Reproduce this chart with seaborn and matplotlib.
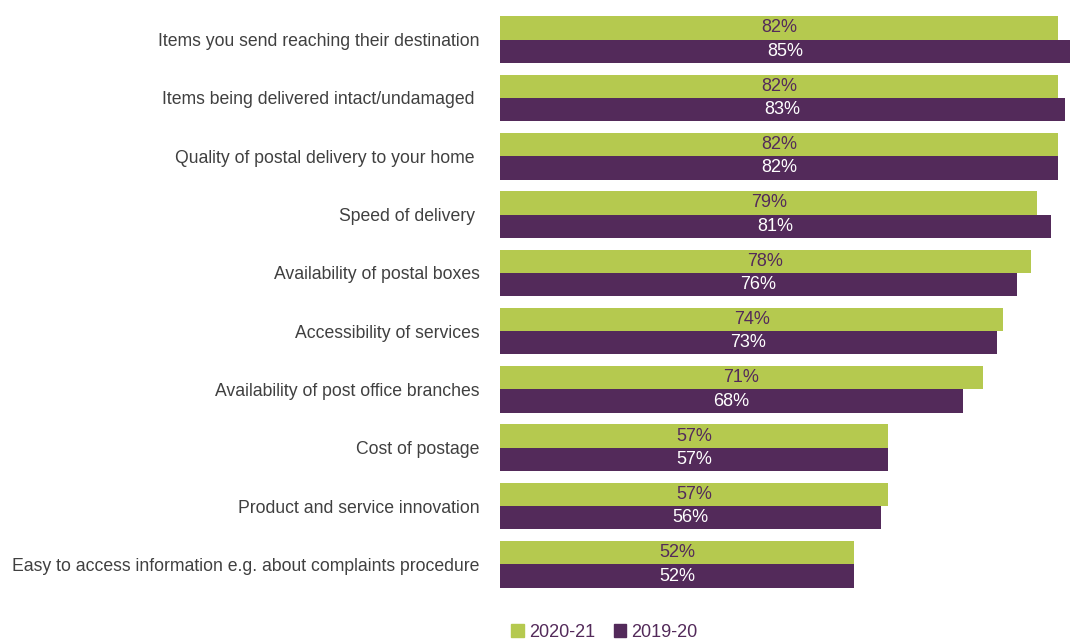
import matplotlib.pyplot as plt
import matplotlib.patches as mpatches
import pandas as pd
import seaborn as sns

categories = [
    "Items you send reaching their destination",
    "Items being delivered intact/undamaged ",
    "Quality of postal delivery to your home ",
    "Speed of delivery ",
    "Availability of postal boxes",
    "Accessibility of services",
    "Availability of post office branches",
    "Cost of postage",
    "Product and service innovation",
    "Easy to access information e.g. about complaints procedure",
]
years = ["2020-21", "2019-20"]
vals_2021 = [82, 82, 82, 79, 78, 74, 71, 57, 57, 52]
vals_2020 = [85, 83, 82, 81, 76, 73, 68, 57, 56, 52]

green = "#b5c94f"
purple = "#532a5a"

df = pd.DataFrame({
    "cat": categories * 2,
    "year": [years[0]] * len(categories) + [years[1]] * len(categories),
    "val": vals_2021 + vals_2020,
})

sns.set_style("white")
plt.rcParams["font.family"] = ["Liberation Sans", "DejaVu Sans"]

fig = plt.figure(figsize=(10.7, 6.41), dpi=100, facecolor="white")
ax = fig.add_axes([500 / 1070, 47.5 / 641, 570 / 1070, 583 / 641])
sns.barplot(data=df, y="cat", x="val", hue="year", orient="h",
            palette=[green, purple], width=0.8, saturation=1,
            linewidth=0, legend=False, ax=ax)
ax.set_xlim(0, 83.8)
ax.set_ylim(9.5, -0.5)
ax.set_xlabel("")
ax.set_ylabel("")
ax.set_xticks([])
sns.despine(ax=ax, left=True, bottom=True)
ax.tick_params(axis="y", length=0, pad=14.5, labelsize=12.7, labelcolor="#404040")

for cont, col in zip(ax.containers, [purple, "white"]):
    ax.bar_label(cont, labels=[f"{int(v.get_width())}%" for v in cont],
                 label_type="center", color=col, fontsize=13)

handles = [mpatches.Patch(color=green, label=years[0]),
           mpatches.Patch(color=purple, label=years[1])]
fig.legend(handles=handles, loc="lower center", bbox_to_anchor=(0.565, -0.025),
           ncol=2, frameon=False, fontsize=13, handlelength=0.7,
           handleheight=0.7, handletextpad=0.3, columnspacing=1.0,
           labelcolor=purple)

fig.savefig("out.png", dpi=100, facecolor="white")
